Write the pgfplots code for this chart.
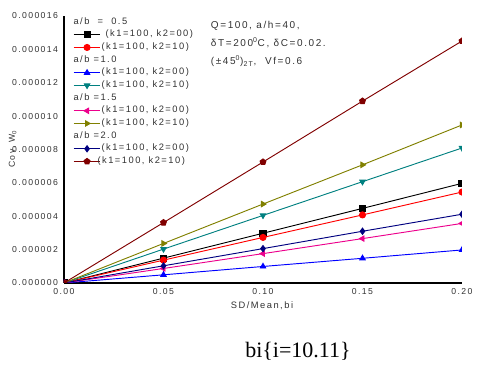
\documentclass[border=0pt]{standalone}
\usepackage{pgfplots}
\pgfplotsset{compat=1.18}
\usepackage{fontspec}
\setmainfont{Liberation Sans}[LetterSpace=16]
\newfontfamily\serifb{Liberation Serif}
\definecolor{cteal}{RGB}{0,128,128}
\definecolor{colive}{RGB}{128,128,0}
\definecolor{cnavy}{RGB}{0,0,128}
\definecolor{cmaroon}{RGB}{128,0,0}
\definecolor{cgray}{RGB}{50,50,50}
\begin{document}
\begin{tikzpicture}
\path[use as bounding box] (0,0) rectangle (362.25pt,279.75pt);
\begin{axis}[
  at={(48pt,67.5pt)}, anchor=origin,
  scale only axis, width=298.5pt, height=200.25pt,
  xmin=0, xmax=0.2, ymin=0, ymax=16e-6,
  axis x line*=bottom, axis y line*=left,
  axis line style={-, line width=1pt},
  major tick length=0pt,
  clip marker paths=true,
  scaled y ticks=false, scaled x ticks=false,
  /pgf/number format/assume math mode=true,
  xtick={0,0.05,0.1,0.15,0.2},
  xticklabels={0.00,0.05,0.10,0.15,0.20},
  ytick={0,2e-6,4e-6,6e-6,8e-6,10e-6,12e-6,14e-6,16e-6},
  yticklabels={0.000000,0.000002,0.000004,0.000006,0.000008,0.000010,0.000012,0.000014,0.000016},
  ticklabel style={font=\fontsize{6.5}{7}\selectfont, text=cgray},
  xticklabel style={yshift=-0.5pt},
  yticklabel style={xshift=-1pt},
  every axis plot/.append style={line width=0.7pt, mark size=2.3pt},
  legend image code/.code={\draw[mark repeat=2,mark phase=2] plot coordinates {(0pt,0pt)(10pt,0pt)(20pt,0pt)};},
  legend style={at={(0.0226,0.993)}, anchor=north west, draw=none, fill=none, inner sep=0pt,
    font=\fontsize{7}{7.5}\selectfont, text=cgray, row sep=3.5pt,
    nodes={inner sep=0.5pt, text height=4pt, text depth=1pt}},
  legend cell align=left,
]
\addlegendimage{empty legend}\addlegendentry{\hspace*{-21pt}a/b \ = \ 0.5}
\addplot[black, mark=square*, mark options={solid, fill=black}] coordinates {(0,0) (0.05,1.49e-6) (0.1,2.98e-6) (0.15,4.47e-6) (0.2,5.97e-6)};
\addlegendentry{\ (k1=100, k2=00)}
\addplot[red, mark=*, mark options={solid, fill=red}] coordinates {(0,0) (0.05,1.37e-6) (0.1,2.73e-6) (0.15,4.08e-6) (0.2,5.45e-6)};
\addlegendentry{(k1=100, k2=10)}
\addlegendimage{empty legend}\addlegendentry{\hspace*{-21pt}a/b =1.0}
\addplot[blue, mark=triangle*, mark options={solid, fill=blue}] coordinates {(0,0) (0.05,0.49e-6) (0.1,0.99e-6) (0.15,1.48e-6) (0.2,1.98e-6)};
\addlegendentry{(k1=100, k2=00)}
\addplot[cteal, mark=triangle*, mark options={solid, fill=cteal, rotate=180}] coordinates {(0,0) (0.05,2.03e-6) (0.1,4.05e-6) (0.15,6.07e-6) (0.2,8.09e-6)};
\addlegendentry{(k1=100, k2=10)}
\addlegendimage{empty legend}\addlegendentry{\hspace*{-21pt}a/b =1.5}
\addplot[magenta, mark=triangle*, mark options={solid, fill=magenta, rotate=90}] coordinates {(0,0) (0.05,0.87e-6) (0.1,1.76e-6) (0.15,2.66e-6) (0.2,3.57e-6)};
\addlegendentry{(k1=100, k2=00)}
\addplot[colive, mark=triangle*, mark options={solid, fill=colive, rotate=-90}] coordinates {(0,0) (0.05,2.37e-6) (0.1,4.73e-6) (0.15,7.08e-6) (0.2,9.47e-6)};
\addlegendentry{(k1=100, k2=10)}
\addlegendimage{empty legend}\addlegendentry{\hspace*{-21pt}a/b =2.0}
\addplot[cnavy, mark=diamond*, mark options={solid, fill=cnavy}] coordinates {(0,0) (0.05,1.03e-6) (0.1,2.06e-6) (0.15,3.10e-6) (0.2,4.12e-6)};
\addlegendentry{(k1=100, k2=00)}
\addplot[cmaroon, mark=pentagon*, mark options={solid, fill=cmaroon}] coordinates {(0,0) (0.05,3.62e-6) (0.1,7.25e-6) (0.15,10.9e-6) (0.2,14.5e-6)};
\addlegendentry{\hspace*{-3pt}(k1=100, k2=10)}
\end{axis}
\node[anchor=north west, align=left, inner sep=0pt, text=cgray, font=\fontsize{7.5}{13.5}\selectfont] at (158pt,264pt)
  {Q=100, a/h=40,\\ δT=200\textsuperscript{0}C, δC=0.02.\\ (±45\textsuperscript{0})\textsubscript{2T}, \ Vf=0.6};
\node[rotate=90, inner sep=0pt, text=cgray, font=\fontsize{6.5}{7}\selectfont] at (9.5pt,168pt) {Cov, W\textsubscript{0}};
\node[inner sep=0pt, text=cgray, font=\fontsize{7}{8}\selectfont] at (196.5pt,50.5pt) {SD/Mean,bi};
\node[inner sep=0pt, font=\serifb\fontsize{16.5}{18}\selectfont] at (223.5pt,16pt) {bi\{i=10.11\}};
\end{tikzpicture}
\end{document}
